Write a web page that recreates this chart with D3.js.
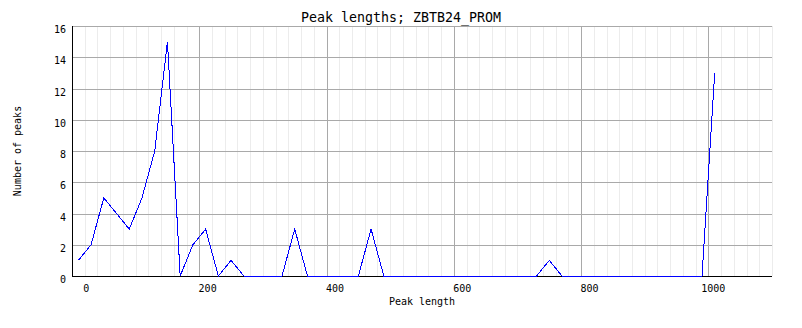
<!DOCTYPE html>
<html>
<head>
<meta charset="utf-8">
<script src="https://cdn.jsdelivr.net/npm/d3@7/dist/d3.min.js"></script>
<style>
  body { margin: 0; background: #fff }
  svg { display: block }
  text { font-family: 'DejaVu Sans Mono', monospace; fill: #000 }
  .grid line { shape-rendering: crispEdges }
  .grid path { display: none }
</style>
</head>
<body>
<svg width="802" height="328"></svg>
<script>
// chart title and axis names
var title = 'Peak lengths; ZBTB24_PROM'
var xName = 'Peak length'
var yName = 'Number of peaks'

// bin start of each peak length (step 20)
var peakLength = [0, 20, 40, 60, 80, 100, 120, 140, 160, 180,
  200, 220, 240, 260, 280, 300, 320, 340, 360, 380,
  400, 420, 440, 460, 480, 500, 520, 540, 560, 580,
  600, 620, 640, 660, 680, 700, 720, 740, 760, 780,
  800, 820, 840, 860, 880, 900, 920, 940, 960, 980, 1000]
// number of peaks per bin
var numPeaks = [1, 2, 5, 4, 3, 5, 8, 15, 0, 2,
  3, 0, 1, 0, 0, 0, 0, 3, 0, 0,
  0, 0, 0, 3, 0, 0, 0, 0, 0, 0,
  0, 0, 0, 0, 0, 0, 0, 1, 0, 0,
  0, 0, 0, 0, 0, 0, 0, 0, 0, 0, 13]

// tick labels
var xTicks = [0, 200, 400, 600, 800, 1000]
var yTicks = [0, 2, 4, 6, 8, 10, 12, 14, 16]
// grid lines sit half a bin left of the labels
var xMajorGrid = [190, 390, 590, 790, 990]
var xMinorGrid = d3.range(-10, 1091, 20)

var svg = d3.select('svg')
var margin = {top: 26, right: 30, bottom: 52, left: 72}
var width = 802 - margin.left - margin.right
var height = 328 - margin.top - margin.bottom
var g = svg.append('g')
  .attr('transform', 'translate(' + margin.left + ',' + margin.top + ')')

var x = d3.scaleLinear().domain([-10, 1090]).range([0, width])
var y = d3.scaleLinear().domain([0, 16]).range([height, 0])

// minor vertical grid
g.append('g')
  .attr('class', 'grid')
  .attr('transform', 'translate(0,' + height + ')')
  .call(d3.axisBottom(x).tickValues(xMinorGrid).tickSize(-height).tickFormat(''))
  .selectAll('line').attr('stroke', '#ececec')

// horizontal grid
g.append('g')
  .attr('class', 'grid')
  .call(d3.axisLeft(y).tickValues(yTicks).tickSize(-width).tickFormat(''))
  .selectAll('line').attr('stroke', '#a9a9a9')

// major vertical grid
g.append('g')
  .attr('class', 'grid')
  .attr('transform', 'translate(0,' + height + ')')
  .call(d3.axisBottom(x).tickValues(xMajorGrid).tickSize(-height).tickFormat(''))
  .selectAll('line').attr('stroke', '#a9a9a9')

// axis lines
g.append('line')
  .attr('x1', 0).attr('x2', 0).attr('y1', 0).attr('y2', height)
  .attr('stroke', '#000').attr('shape-rendering', 'crispEdges')
g.append('line')
  .attr('x1', 0).attr('x2', width).attr('y1', height).attr('y2', height)
  .attr('stroke', '#000').attr('shape-rendering', 'crispEdges')

// y tick labels
g.selectAll('.ylab')
  .data(yTicks)
  .enter()
  .append('text')
  .attr('class', 'ylab')
  .attr('x', -6)
  .attr('y', (d) => y(d) + 7)
  .attr('text-anchor', 'end')
  .style('font-size', '10px')
  .text((d) => d)

// x tick labels
g.selectAll('.xlab')
  .data(xTicks)
  .enter()
  .append('text')
  .attr('class', 'xlab')
  .attr('x', (d) => x(d))
  .attr('dx', (d) => d === 0 ? 8 : (d === 1000 ? -1.5 : 2))
  .attr('y', height + 16)
  .attr('text-anchor', 'middle')
  .style('font-size', '10px')
  .text((d) => d)

// the line
var line = d3.line()
  .x((d, i) => x(peakLength[i]))
  .y((d) => y(d))

g.append('path')
  .datum(numPeaks)
  .attr('fill', 'none')
  .attr('stroke', '#0000ff')
  .attr('stroke-width', 1)
  .attr('shape-rendering', 'crispEdges')
  .attr('d', line)

// title
svg.append('text')
  .attr('x', 401)
  .attr('y', 22)
  .attr('text-anchor', 'middle')
  .style('font-size', '13.3px')
  .text(title)

// axis names
svg.append('text')
  .attr('x', margin.left + width / 2)
  .attr('y', 305)
  .attr('text-anchor', 'middle')
  .style('font-size', '10px')
  .text(xName)

svg.append('text')
  .attr('transform', 'translate(21,' + (margin.top + height / 2) + ') rotate(-90)')
  .attr('text-anchor', 'middle')
  .style('font-size', '10px')
  .text(yName)
</script>
</body>
</html>
